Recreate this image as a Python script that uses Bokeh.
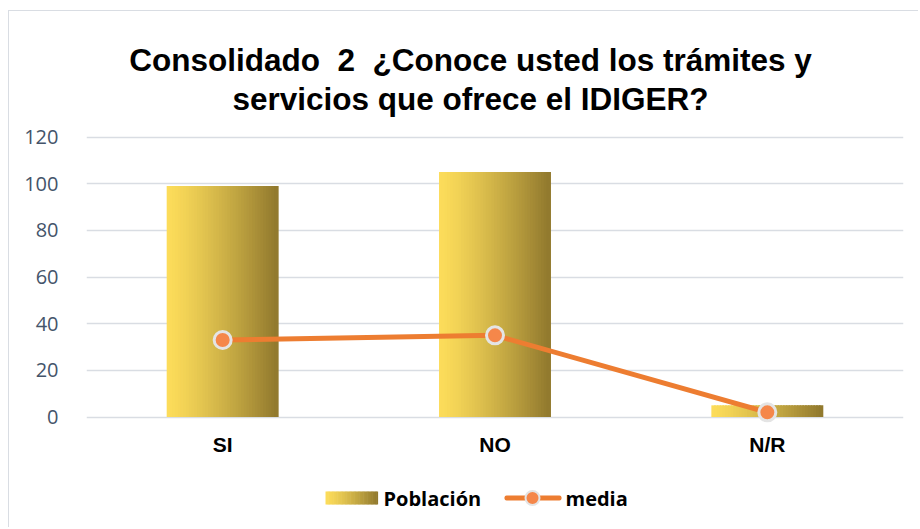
from bokeh.plotting import figure
from bokeh.models import (FactorRange, Range1d, FixedTicker, Label, BoxAnnotation,
                          ColumnDataSource)
from bokeh.transform import dodge
from bokeh.embed import file_html
from bokeh.resources import INLINE

# ---- data ----
categories = ["SI", "NO", "N/R"]
poblacion = [99, 105, 5]
media = [33, 35, 2]
y_ticks = [0, 20, 40, 60, 80, 100, 120]
title_line1 = "Consolidado\u00a0\u00a02\u00a0\u00a0¿Conoce usted los trámites y"
title_line2 = "servicios que ofrece el IDIGER?"
legend_labels = ["Población", "media"]

# page geometry: canvas starts at page (9, 11) because of margin + 1px border
OX, OY = 9, 11
W, H = 910, 517
FL = 86             # frame left (page px)
FR = 903            # frame right (page px)
Y0, PXU = 416.5, 280 / 120   # page y of value 0, pixels per unit
FB = OY + H         # frame bottom (page px)
ymin = (Y0 - FB) / PXU
ymax = (Y0 - OY) / PXU

p = figure(width=W, height=H, x_range=FactorRange(*categories), y_range=Range1d(ymin, ymax),
           output_backend="svg", toolbar_location=None,
           min_border_left=FL - OX, min_border_right=W - (FR - OX),
           min_border_top=0, min_border_bottom=0)
p.outline_line_color = None
p.background_fill_color = "white"
p.border_fill_color = "white"
p.styles = {"margin-left": "8px", "margin-top": "10px",
            "border-left": "1px solid #D9DDE3", "border-top": "1px solid #D9DDE3"}

def sx(X):
    return X - FL
def sy(Y):
    return FB - Y

# axes
p.yaxis.ticker = FixedTicker(ticks=y_ticks)
p.yaxis.axis_line_color = None
p.yaxis.major_tick_line_color = None
p.yaxis.minor_tick_line_color = None
p.yaxis.major_label_text_font = "Open Sans"
p.yaxis.major_label_text_font_size = "20px"
p.yaxis.major_label_text_color = "#44546A"
p.yaxis.major_label_standoff = 22

p.xaxis.fixed_location = 0
p.xaxis.axis_line_color = None
p.xaxis.major_tick_line_color = None
p.xaxis.major_label_text_font = "Liberation Sans"
p.xaxis.major_label_text_font_style = "bold"
p.xaxis.major_label_text_font_size = "21px"
p.xaxis.major_label_text_color = "#000000"
p.xaxis.major_label_standoff = 10

p.xgrid.grid_line_color = None
p.ygrid.grid_line_color = "#D9DDE3"
p.ygrid.grid_line_width = 1.5

# gradient bars as thin strips
src = ColumnDataSource(dict(cat=categories, pob=poblacion, med=media))
c0 = (252, 220, 90)
c1 = (146, 122, 46)
N = 40
bw = 0.405
sw = bw / N
def grad(t):
    t = t ** 1.25
    return "#%02x%02x%02x" % tuple(int(round(a + (b - a) * t)) for a, b in zip(c0, c1))
for i in range(N):
    off = -bw / 2 + sw * (i + 0.5)
    p.vbar(x=dodge("cat", off, range=p.x_range), top="pob", width=sw * 1.6, bottom=0,
           source=src, fill_color=grad(i / (N - 1)), line_color=None)

# media line
p.line(x="cat", y="med", source=src, line_color="#ED7D31", line_width=5)
p.scatter(x="cat", y="med", source=src, size=17, fill_color="#F5874A",
          line_color="#E4E4E4", line_width=3)

# title
for txt, base in [(title_line1, 59), (title_line2, 98)]:
    p.add_layout(Label(x=sx(470), y=sy(base), x_units="screen", y_units="screen",
                       text=txt, text_align="center", text_baseline="alphabetic",
                       text_font="Liberation Sans", text_font_style="bold",
                       text_font_size="31.5px", text_color="#000000"))

# legend
ly = sy(497.5)
for i in range(N):
    t = i / (N - 1)
    x0 = sx(325) + 52 * i / N
    p.add_layout(BoxAnnotation(left=x0, right=x0 + 52 / N + 0.6, bottom=ly - 6.5, top=ly + 6.5,
                               left_units="screen", right_units="screen",
                               bottom_units="screen", top_units="screen",
                               fill_color=grad(t), fill_alpha=1, line_color=None, level="overlay"))
p.add_layout(Label(x=sx(383), y=ly, x_units="screen", y_units="screen", text=legend_labels[0],
                   text_baseline="middle", text_font="Open Sans", text_font_style="bold",
                   text_font_size="20px", text_color="#000000"))
p.add_layout(BoxAnnotation(left=sx(504), right=sx(561), bottom=ly - 2.5, top=ly + 2.5,
                           left_units="screen", right_units="screen",
                           bottom_units="screen", top_units="screen", border_radius=2,
                           fill_color="#ED7D31", fill_alpha=1, line_color=None, level="overlay"))
p.add_layout(BoxAnnotation(left=sx(532) - 7, right=sx(532) + 7, bottom=ly - 7, top=ly + 7,
                           left_units="screen", right_units="screen",
                           bottom_units="screen", top_units="screen", border_radius=7,
                           fill_color="#F5874A", fill_alpha=1, line_color="#E4E4E4",
                           line_width=2, line_alpha=1, level="overlay"))
p.add_layout(Label(x=sx(565), y=ly, x_units="screen", y_units="screen", text=legend_labels[1],
                   text_baseline="middle", text_font="Open Sans", text_font_style="bold",
                   text_font_size="20px", text_color="#000000"))

open("out.html", "w").write(file_html(p, INLINE))
